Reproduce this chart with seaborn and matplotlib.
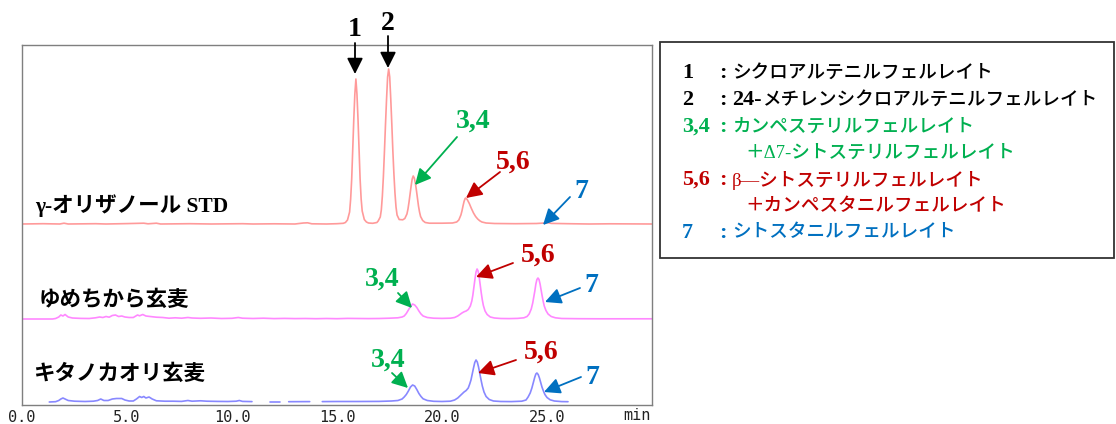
import numpy as np
import pandas as pd
import matplotlib
matplotlib.use("Agg")
import matplotlib.pyplot as plt
import seaborn as sns
from matplotlib.patches import Rectangle
from matplotlib.ticker import MultipleLocator

# ---------------- data ----------------
sample_names = ["γ-オリザノール STD", "ゆめちから玄麦", "キタノカオリ玄麦"]

std_time = [0.0, 1.0, 1.8, 2.0, 2.2, 3.5, 4.0, 5.0, 5.8, 6.0, 6.4, 6.6, 8.0, 9.0, 10.5, 11.0, 12.0, 13.0, 13.4, 13.6, 13.8, 14.5, 15.0, 15.3,
            15.4, 15.5, 15.6, 15.65, 15.7, 15.75, 15.8, 15.85, 15.9, 15.95, 16.0, 16.05, 16.1, 16.15, 16.2, 16.3, 16.4, 16.5, 16.7, 16.9,
            16.96, 17.06, 17.11, 17.16, 17.21, 17.26, 17.31, 17.36, 17.41, 17.46, 17.51, 17.56, 17.61, 17.66, 17.71, 17.76, 17.81, 17.86, 17.96,
            18.13, 18.23, 18.33, 18.38, 18.43, 18.48, 18.53, 18.58, 18.63, 18.68, 18.73, 18.78, 18.83, 18.88, 18.93, 18.98, 19.08, 19.2, 19.4,
            20.0, 20.5, 20.7, 20.8, 20.9, 20.95, 21.0, 21.05, 21.1, 21.13, 21.2, 21.3, 21.4, 21.5, 21.6, 21.7, 21.8, 21.9, 22.1, 22.5,
            23.5, 24.5, 24.9, 25.05, 25.2, 26.0, 27.0, 28.0, 30.0]
std_signal = [0, 0.3, 0, 0.8, 0, 0.3, 0, 0.4, 0.8, 0.2, 0.8, 0, 0.3, 0, 0.3, 0, 0.2, 0, 1.0, 1.2, 0.2, 0, 0.3, 0.7,
              1.5, 4, 12, 25, 45, 75, 105, 130, 145, 130, 105, 75, 45, 25, 13, 4.5, 2, 1, 0.7, 1.5,
              3, 7, 14, 28, 48, 73, 100, 125, 147, 155, 147, 125, 100, 73, 50, 31, 17, 9, 4.5,
              4.2, 5.5, 10, 15, 22, 30, 38, 45, 48, 46, 41, 34, 26, 18, 12, 7.5, 3.5, 1.5, 0.8,
              0.8, 1, 2, 4, 9, 13, 18, 22.5, 25.5, 26, 24.5, 20.5, 15.5, 11, 7.5, 5, 3.2, 2, 1, 0.5,
              0.3, 0.5, 1, 1.3, 0.6, 0.3, 0, 0.2, 0]

yume_time = [0.0, 1.45, 1.6, 1.75, 1.85, 1.95, 2.05, 2.2, 2.4, 2.8, 3.2, 3.5, 3.7, 3.85, 4.0, 4.15, 4.3, 4.45, 4.6, 4.75, 4.9, 5.1, 5.3,
             5.5, 5.6, 5.75, 5.9, 6.1, 6.4, 6.7, 7.0, 7.3, 7.6, 7.9, 8.1, 8.5, 9.0, 9.5, 10.0, 10.3, 10.5, 11.0, 11.5, 12.0, 12.5,
             13.0, 13.5, 14.0, 14.5, 15.0, 15.5, 16.0, 16.5, 17.0, 17.5, 17.9, 18.1,
             18.2, 18.3, 18.4, 18.5, 18.6, 18.7, 18.8, 18.9, 19.0, 19.1, 19.3, 19.6, 20.0, 20.4, 20.6, 20.75,
             20.85, 20.95, 21.05, 21.15, 21.25, 21.35, 21.42, 21.47, 21.52, 21.57, 21.62, 21.67, 21.72, 21.77, 21.82, 21.87, 21.92, 21.97,
             22.05, 22.15, 22.3, 22.5, 22.8, 23.2, 23.6, 23.9, 24.05,
             24.15, 24.25, 24.32, 24.37, 24.42, 24.47, 24.52, 24.57, 24.62, 24.67, 24.72, 24.77, 24.82, 24.87, 24.95, 25.05, 25.2, 25.4,
             25.7, 26.5, 27.5, 28.5, 30.0]
yume_signal = [0, 0, 0.5, 2, 4, 3, 4.5, 2, 1, 0.6, 0.5, 1.2, 2.0, 1.5, 2.5, 1.8, 3.5, 4, 2.5, 3, 2, 1.5, 1.5,
               4, 3.2, 4.5, 3, 2.5, 1.8, 1.5, 0.8, 1.2, 0.8, 1.5, 1.0, 0.7, 1.0, 0.5, 0.7, 1.5, 0.8, 0.5, 0.8, 0.4, 0.6,
               0.4, 0.5, 0.3, 0.5, 0.3, 0.6, 0.5, 0.4, 0.5, 0.8, 1.2, 2,
               3, 5.5, 9, 12.5, 15, 14, 11.5, 8, 5, 3, 1.5, 0.8, 0.6, 0.8, 1.5, 3,
               4.5, 6, 7.2, 8, 9.5, 13, 18, 24, 32, 40, 47, 50, 48, 42, 34, 26, 19, 13.5,
               8, 4.5, 2, 1, 0.5, 0.4, 0.6, 1.2, 2.5,
               5, 10, 16, 22, 28, 35, 39.5, 41, 39.5, 35, 29, 23, 17.5, 13, 8.5, 5, 2.5, 1.2,
               0.5, 0.3, 0.2, 0.2, 0.2]

kita_time = [1.3, 1.6, 1.75, 1.85, 1.95, 2.05, 2.2, 2.5, 3.0, 3.4, 3.6, 3.75, 3.9, 4.1, 4.3, 4.5, 4.75, 4.9, 5.1, 5.3,
             5.45, 5.6, 5.7, 5.8, 5.9, 6.05, 6.2, 6.4, 6.8, 7.2, 7.6, 7.9, 8.1, 8.5, 8.8, 9.3, 9.8, 10.2, 10.35, 10.5, 10.95,
             11.3, 11.8, 12.3, 12.5, 12.7, 13.7, 14.0, 14.3, 15.0, 16.0, 17.0, 17.6, 17.9, 18.1,
             18.2, 18.3, 18.4, 18.5, 18.6, 18.7, 18.8, 18.9, 19.0, 19.1, 19.3, 19.6, 20.0, 20.4, 20.6, 20.75,
             20.85, 20.95, 21.05, 21.15, 21.25, 21.32, 21.38, 21.44, 21.5, 21.56, 21.62, 21.68, 21.74, 21.8, 21.86, 21.92,
             22.0, 22.1, 22.25, 22.45, 22.8, 23.3, 23.8, 24.0,
             24.1, 24.2, 24.28, 24.35, 24.42, 24.47, 24.52, 24.58, 24.64, 24.7, 24.76, 24.83, 24.9, 25.0, 25.15, 25.35, 25.7, 26.0]
kita_signal = [0, 0.3, 1.5, 3, 4, 3, 1.5, 0.8, 0.5, 0.8, 1.5, 3, 1.5, 1.5, 3, 3.5, 3.5, 2, 1, 1,
               3, 5.5, 4.5, 5.5, 4, 5, 3, 1.2, 0.8, 0.8, 0.6, 1.5, 0.8, 1.2, 0.8, 0.6, 0.5, 0.8, 1.5, 0.6, 0.4,
               np.nan, 0.3, 0.3, np.nan, 0.3, 0.4, np.nan, 0.4, 0.5, 0.5, 0.6, 1, 1.5, 3,
               5, 7.5, 11, 15, 17, 16, 12.5, 8.5, 5.5, 3.2, 1.5, 0.7, 0.5, 0.8, 2, 4,
               6, 8, 10, 11.5, 14, 18, 22, 28, 34, 39.5, 42, 40, 35, 28.5, 22, 16,
               10, 5.5, 2.5, 1, 0.5, 0.4, 0.8, 2,
               5, 9, 14, 19.5, 25, 28, 29, 27.5, 24, 19.5, 15, 11, 7.5, 4.5, 2.2, 1, 0.4, 0.3]

x_ticks = [0, 5, 10, 15, 20, 25]
x_tick_labels = ["0.0", "5.0", "10.0", "15.0", "20.0", "25.0"]
x_unit = "min"

peak_names = ["1", "2", "3,4", "5,6", "7"]
legend_keys = ["1", "2", "3,4", "", "5,6", "", "7"]
legend_names = ["シクロアルテニルフェルレイト",
                "メチレンシクロアルテニルフェルレイト",
                "カンペステリルフェルレイト",
                "＋Δ7-シトステリルフェルレイト",
                "β—シトステリルフェルレイト",
                "＋カンペスタニルフェルレイト",
                "シトスタニルフェルレイト"]
legend_prefix = ["", "24-", "", "", "", "", ""]

# ---------------- style ----------------
sns.set_style("white")
plt.rcParams["font.family"] = ["Liberation Serif", "Noto Sans CJK JP", "DejaVu Sans"]

W, H = 1116, 424
L_PX, R_PX, T_PX, B_PX = 22, 652, 45, 405
fig = plt.figure(figsize=(W / 100, H / 100), dpi=100)
ax = fig.add_axes([L_PX / W, 1 - B_PX / H, (R_PX - L_PX) / W, (B_PX - T_PX) / H])
ax.set_xlim(0, 30)
ax.set_ylim(0, B_PX - T_PX)

C_GREEN, C_RED, C_BLUE = "#00b050", "#c00000", "#0070c0"
trace_colors = ["#ff9a9a", "#ff88ff", "#8888ff"]
offsets = [181, 86, 3]


def to_data(px, py):
    return ((px - L_PX) * 30 / (R_PX - L_PX), B_PX - py)


traces = [(std_time, std_signal), (yume_time, yume_signal), (kita_time, kita_signal)]
for (t, s), off, col in zip(traces, offsets, trace_colors):
    sig = np.array(s, dtype=float)
    df = pd.DataFrame({"time": t, "signal": sig + off,
                       "seg": np.cumsum(np.isnan(sig))})
    sns.lineplot(data=df, x="time", y="signal", units="seg", estimator=None,
                 sort=False, color=col, lw=1.2, ax=ax, legend=False)

ax.set_xlabel("")
ax.set_ylabel("")
for sp in ax.spines.values():
    sp.set_color("#7f7f7f")
    sp.set_linewidth(1.0)
ax.set_xticks(x_ticks)
ax.set_xticklabels(x_tick_labels, fontfamily="DejaVu Sans Mono", fontsize=11)
ax.xaxis.set_minor_locator(MultipleLocator(1))
ax.set_yticks(np.arange(0, B_PX - T_PX + 0.1, (B_PX - T_PX) / 32))
ax.set_yticklabels([])
ax.tick_params(axis="x", which="both", direction="out", length=3, width=0.8,
               color="#7f7f7f", pad=0.3, labelcolor="#222222")
ax.tick_params(axis="y", which="both", direction="out", length=3, width=0.8,
               color="#7f7f7f")
ax.text(29.95, -3.3, x_unit, ha="right", va="top", fontfamily="DejaVu Sans Mono",
        fontsize=11, color="#222222")

# sample labels
label_pos = [(35, 206), (39, 301), (33, 375)]
for name, (px, py) in zip(sample_names, label_pos):
    fig.text(px / W, 1 - py / H, name, ha="left", va="center", fontsize=15.5,
             fontweight="bold", color="black")

# peak annotations: (text, text px, arrow start px, arrow tip px, colour)
annots = [
    ("1", (355, 30), (355, 43), (355, 74), "black"),
    ("2", (388, 23), (388, 36), (388, 68), "black"),
    ("3,4", (473, 121), (457, 137), (415, 185), C_GREEN),
    ("5,6", (513, 162), (500, 172), (466, 198), C_RED),
    ("7", (581, 192), (570, 197), (543, 225), C_BLUE),
    ("3,4", (382, 279), (398, 293), (412, 308), C_GREEN),
    ("5,6", (538, 255), (513, 263), (476, 277), C_RED),
    ("7", (591, 286), (580, 288), (545, 302), C_BLUE),
    ("3,4", (388, 360), (392, 373), (408, 388), C_GREEN),
    ("5,6", (541, 352), (516, 360), (478, 373), C_RED),
    ("7", (592, 377), (581, 377), (544, 392), C_BLUE),
]
for txt, tp, sp_, tip, col in annots:
    ax.text(*to_data(*tp), txt, ha="center", va="center", fontsize=20,
            fontweight="bold", color=col, clip_on=False)
    ax.annotate("", xy=to_data(*tip), xytext=to_data(*sp_), annotation_clip=False,
                arrowprops=dict(arrowstyle="-|>", color=col, lw=1.3,
                                mutation_scale=24, shrinkA=0, shrinkB=0))

# legend box
fig.patches.append(Rectangle((660 / W, 1 - 258 / H), (1114 - 660) / W, (258 - 42) / H,
                             transform=fig.transFigure, fill=False,
                             edgecolor="#333333", lw=1.3))
legend_colors = ["black", "black", C_GREEN, C_GREEN, C_RED, C_RED, C_BLUE]
legend_y = [73, 100, 127, 153, 180, 207, 233]
for key, pre, name, col, py in zip(legend_keys, legend_prefix, legend_names,
                                   legend_colors, legend_y):
    fy = 1 - py / H
    if key:
        fig.text(682 / W, fy, key, ha="left", va="center", fontsize=16,
                 fontweight="bold", color=col)
        fig.text(719 / W, fy, ":", ha="left", va="center", fontsize=16,
                 fontweight="bold", color=col)
        x0 = 732
    else:
        x0 = 745
    if pre:
        fig.text(x0 / W, fy, pre, ha="left", va="center", fontsize=16,
                 fontweight="bold", color=col)
        x0 += 30
    fig.text(x0 / W, fy, name, ha="left", va="center", fontsize=13.4,
             fontweight="medium", color=col)

fig.savefig("out.png", dpi=100)
